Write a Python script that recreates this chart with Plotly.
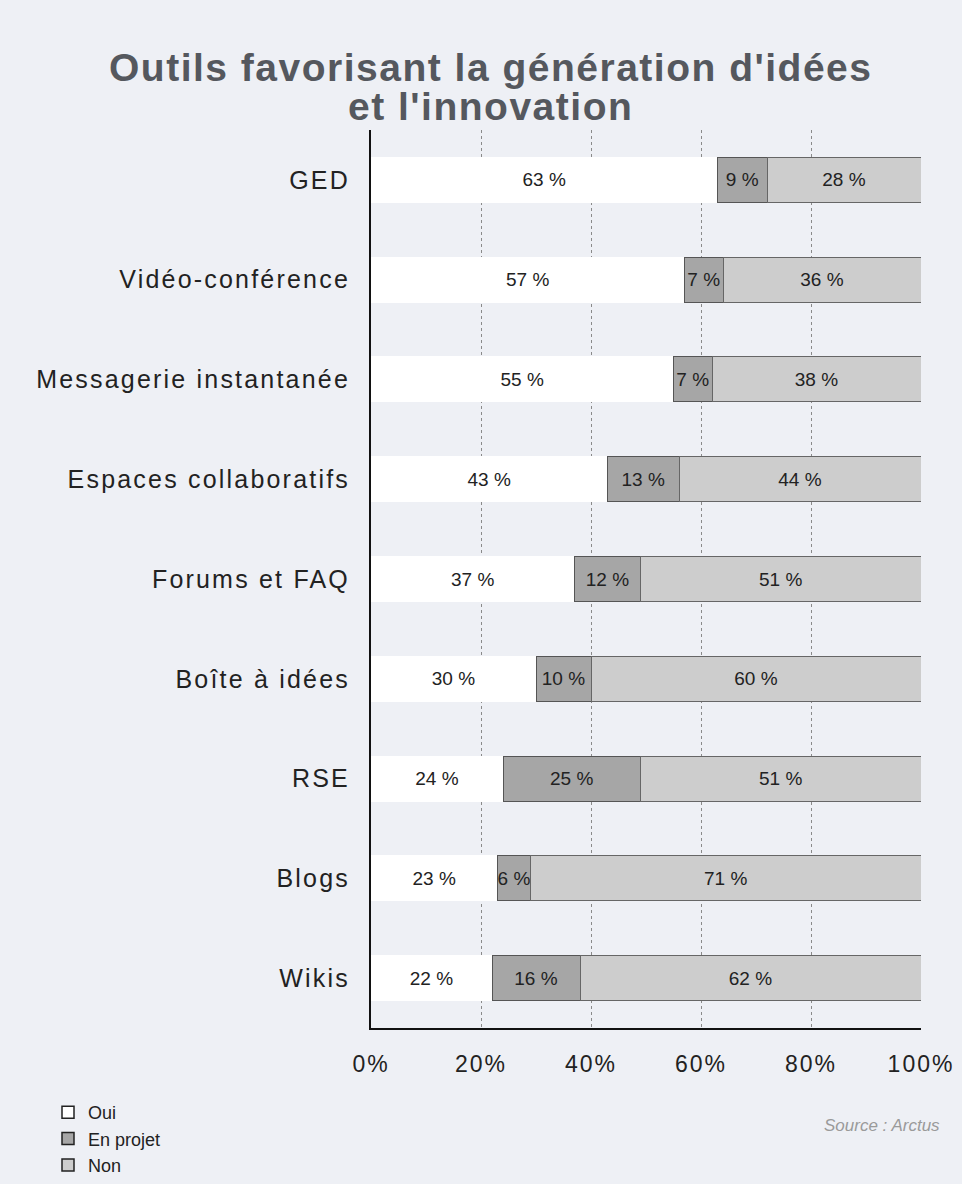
import plotly.graph_objects as go

categories = ["GED", "Vidéo-conférence", "Messagerie instantanée", "Espaces collaboratifs",
              "Forums et FAQ", "Boîte à idées", "RSE", "Blogs", "Wikis"]
oui = [63, 57, 55, 43, 37, 30, 24, 23, 22]
en_projet = [9, 7, 7, 13, 12, 10, 25, 6, 16]
non = [28, 36, 38, 44, 51, 60, 51, 71, 62]
x_ticks = [0, 20, 40, 60, 80, 100]
x_ticklabels = ["0%", "20%", "40%", "60%", "80%", "100%"]
title_lines = ["Outils favorisant la génération d'idées", "et l'innovation"]
source_text = "Source : Arctus"

FONT = "Liberation Sans, Arial, sans-serif"
BG = "#eef0f5"

W, H = 962, 1184
L, R, T, B = 371, 41, 130, 156
PW, PH = W - L - R, H - T - B


def px_to_paper_x(px):
    return (px - L) / PW


def px_to_paper_y(py):
    return (H - B - py) / PH


fig = go.Figure()
series = [
    ("Oui", oui, "#ffffff", "#ffffff"),
    ("En projet", en_projet, "#a6a6a6", "#555555"),
    ("Non", non, "#cdcdcd", "#666666"),
]
for name, vals, color, line in series:
    fig.add_trace(go.Bar(
        y=categories, x=vals, name=name, orientation="h", showlegend=False,
        marker=dict(color=color, line=dict(color=line, width=1)),
        text=[f"{v} %" for v in vals], texttemplate="%{text}",
        textposition="inside", insidetextanchor="middle", textangle=0,
        textfont=dict(family=FONT, size=19, color="#222222"),
        constraintext="none",
    ))
# legend entries (dark-bordered squares as in the reference)
for name, vals, color, line in series:
    fig.add_trace(go.Bar(
        y=[None], x=[None], name=name, orientation="h", showlegend=True,
        marker=dict(color=color, line=dict(color="#222222", width=1.5)),
    ))

for i, line in enumerate(title_lines):
    fig.add_annotation(
        text=f'<b><span style="letter-spacing:1.5px">{line}</span></b>',
        xref="paper", yref="paper",
        x=px_to_paper_x(490), y=px_to_paper_y(68 + i * 38),
        xanchor="center", yanchor="middle", showarrow=False,
        font=dict(family=FONT, size=39, color="#55585e"),
    )

fig.add_annotation(
    text=f"<i>{source_text}</i>", xref="paper", yref="paper",
    x=px_to_paper_x(942), y=px_to_paper_y(1125),
    xanchor="right", yanchor="middle", showarrow=False,
    font=dict(family=FONT, size=17, color="#9a9a9a"),
)

fig.update_layout(
    width=W, height=H,
    margin=dict(l=L, r=R, t=T, b=B, autoexpand=False),
    paper_bgcolor=BG, plot_bgcolor=BG,
    barmode="stack", bargap=0.55,
    showlegend=True,
    uniformtext=dict(mode="show", minsize=19),
    legend=dict(
        xref="container", yref="container", traceorder="normal",
        x=48 / W, y=1 - 1094 / H, xanchor="left", yanchor="top",
        font=dict(family=FONT, size=18, color="#222222"),
        bgcolor="rgba(0,0,0,0)", tracegroupgap=0, itemwidth=30,
    ),
    xaxis=dict(
        range=[0, 100], tickvals=x_ticks,
        ticktext=[f'<span style="letter-spacing:2px">{t}</span>' for t in x_ticklabels],
        showgrid=True, gridcolor="#8a8a8a", griddash="dot", gridwidth=1,
        zeroline=False, showline=True, linecolor="#111111", linewidth=2,
        ticks="", ticklabelstandoff=14, automargin=False,
        tickfont=dict(family=FONT, size=23, color="#222222"),
        fixedrange=True,
    ),
    yaxis=dict(
        autorange="reversed", tickvals=categories,
        ticktext=[f'<span style="letter-spacing:2.2px">{c}</span>' for c in categories],
        showgrid=False, zeroline=False, showline=True, automargin=False,
        linecolor="#111111", linewidth=2, ticks="", ticklabelstandoff=14,
        tickfont=dict(family=FONT, size=25, color="#222222"),
    ),
)

fig.write_html("out.html")
